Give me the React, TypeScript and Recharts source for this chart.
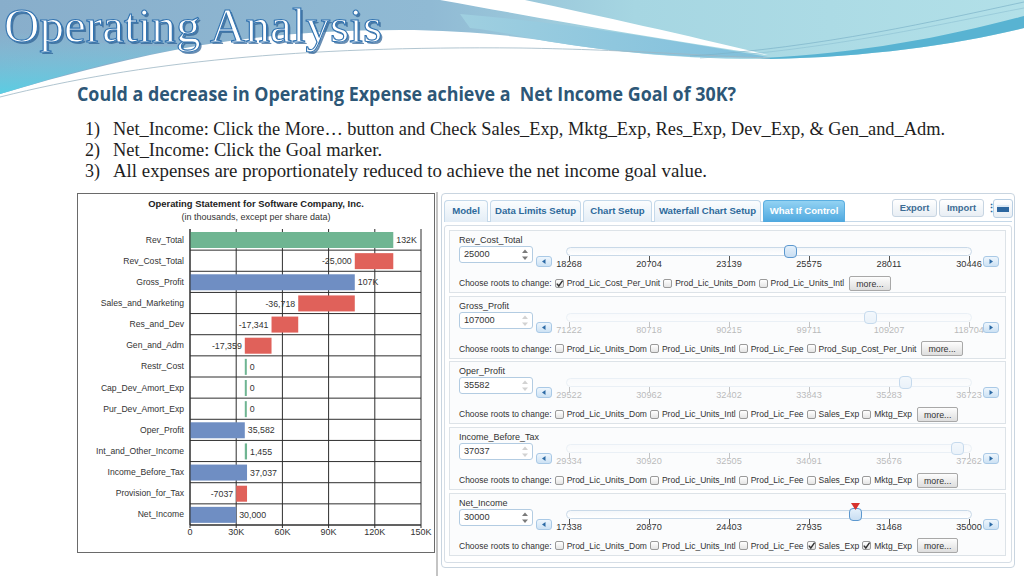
import React from 'react';
import { BarChart, Bar, XAxis, YAxis, CartesianGrid } from 'recharts';

// ---------------- Chart data ----------------
const categories = [
  'Rev_Total', 'Rev_Cost_Total', 'Gross_Profit', 'Sales_and_Marketing', 'Res_and_Dev',
  'Gen_and_Adm', 'Restr_Cost', 'Cap_Dev_Amort_Exp', 'Pur_Dev_Amort_Exp', 'Oper_Profit',
  'Int_and_Other_Income', 'Income_Before_Tax', 'Provision_for_Tax', 'Net_Income',
];
const values = [132000, -25000, 107000, -36718, -17341, -17359, 0, 0, 0, 35582, 1455, 37037, -7037, 30000];
const isTotal = [false, false, true, false, false, false, false, false, false, true, false, true, false, true];
const valueLabels = ['132K', '-25,000', '107K', '-36,718', '-17,341', '-17,359', '0', '0', '0', '35,582', '1,455', '37,037', '-7037', '30,000'];
const xTicks = [0, 30000, 60000, 90000, 120000, 150000];
const xTickLabels = ['0', '30K', '60K', '90K', '120K', '150K'];

// ---------------- What-if panel data ----------------
const tabNames = ['Model', 'Data Limits Setup', 'Chart Setup', 'Waterfall Chart Setup', 'What If Control'];
const activeTab = 4;
const sectionNames = ['Rev_Cost_Total', 'Gross_Profit', 'Oper_Profit', 'Income_Before_Tax', 'Net_Income'];
const sectionValues = [25000, 107000, 35582, 37037, 30000];
const sectionTicks = [
  [18268, 20704, 23139, 25575, 28011, 30446],
  [71222, 80718, 90215, 99711, 109207, 118704],
  [29522, 30962, 32402, 33843, 35283, 36723],
  [29334, 30920, 32505, 34091, 35676, 37262],
  [17338, 20870, 24403, 27935, 31468, 35000],
];
const sectionEnabled = [true, false, false, false, true];
const sectionGoal = [null, null, null, null, 30000];
const sectionRoots = [
  ['Prod_Lic_Cost_Per_Unit', 'Prod_Lic_Units_Dom', 'Prod_Lic_Units_Intl'],
  ['Prod_Lic_Units_Dom', 'Prod_Lic_Units_Intl', 'Prod_Lic_Fee', 'Prod_Sup_Cost_Per_Unit'],
  ['Prod_Lic_Units_Dom', 'Prod_Lic_Units_Intl', 'Prod_Lic_Fee', 'Sales_Exp', 'Mktg_Exp'],
  ['Prod_Lic_Units_Dom', 'Prod_Lic_Units_Intl', 'Prod_Lic_Fee', 'Sales_Exp', 'Mktg_Exp'],
  ['Prod_Lic_Units_Dom', 'Prod_Lic_Units_Intl', 'Prod_Lic_Fee', 'Sales_Exp', 'Mktg_Exp'],
];
const sectionChecked = [
  [true, false, false],
  [false, false, false, false],
  [false, false, false, false, false],
  [false, false, false, false, false],
  [false, false, false, true, true],
];

const steps = [
  'Net_Income: Click the More\u2026 button and Check Sales_Exp, Mktg_Exp, Res_Exp, Dev_Exp, & Gen_and_Adm.',
  'Net_Income: Click the Goal marker.',
  'All expenses are proportionately reduced to achieve the net income goal value.',
];

// ---------------- styles ----------------
const SANS = "'Liberation Sans', Arial, sans-serif";
const COLORS: Record<string, string> = { up: '#6fb592', down: '#e0615a', total: '#6f8ec3' };
const GRID = '#2e2e2e';

type Row = { name: string; range: [number, number]; kind: string; label: string };

function buildData(): Row[] {
  let running = 0;
  return categories.map((name, i) => {
    const v = values[i];
    if (isTotal[i]) {
      running = v;
      return { name, range: [0, v], kind: 'total', label: valueLabels[i] };
    }
    const next = running + v;
    const row: Row = {
      name,
      range: [Math.min(running, next), Math.max(running, next)],
      kind: v < 0 ? 'down' : 'up',
      label: valueLabels[i],
    };
    running = next;
    return row;
  });
}
const data = buildData();

const WaterfallBar = (props: any) => {
  const { x, y, width, height, payload } = props;
  if (x == null || y == null || !payload) return null;
  const wRaw = Number(width) || 0;
  const left = wRaw < 0 ? x + wRaw : x;
  const w = Math.max(Math.abs(wRaw), 2);
  const isDown = payload.kind === 'down';
  const cy = y + height / 2;
  return (
    <g>
      <rect x={left} y={y} width={w} height={height} fill={COLORS[payload.kind]} />
      <text
        x={isDown ? left - 3 : left + w + 3}
        y={cy}
        dy="0.35em"
        textAnchor={isDown ? 'end' : 'start'}
        fontSize={8.8}
        fill="#333"
        fontFamily={SANS}
      >
        {payload.label}
      </text>
    </g>
  );
};

const hGen = (props: any) => {
  const off = props && props.offset;
  if (!off) return [];
  const n = categories.length;
  return categories.map((_, i) => off.top + ((i + 1) * off.height) / n);
};

const WaterfallChart = () => (
  <div style={{ position: 'absolute', left: 77, top: 193, width: 358, height: 360 }}>
    <div style={{ position: 'absolute', left: 0, top: 0, width: 358, height: 360, border: '1px solid #6a6a6a', boxSizing: 'border-box' }} />
    <div style={{ position: 'absolute', left: 0, width: 358, top: 5, textAlign: 'center', fontFamily: SANS, fontSize: 9.4, fontWeight: 700, color: '#222' }}>
      Operating Statement for Software Company, Inc.
    </div>
    <div style={{ position: 'absolute', left: 0, width: 358, top: 19, textAlign: 'center', fontFamily: SANS, fontSize: 9, color: '#333' }}>
      (in thousands, except per share data)
    </div>
    <div style={{ position: 'absolute', left: 0, top: 0 }}>
      <BarChart width={358} height={360} data={data} layout="vertical" margin={{ top: 36, right: 14, bottom: 8, left: 0 }} barSize={16}>
        <CartesianGrid stroke={GRID} horizontalCoordinatesGenerator={hGen} />
        <XAxis
          type="number"
          domain={[0, 150000]}
          ticks={xTicks}
          interval={0}
          tickFormatter={(v: number) => xTickLabels[xTicks.indexOf(v)] ?? String(v)}
          axisLine={{ stroke: GRID }}
          tickLine={{ stroke: GRID }}
          tickSize={3}
          tickMargin={1}
          height={20}
          tick={{ fontSize: 9, fill: '#333', fontFamily: SANS }}
        />
        <YAxis
          type="category"
          dataKey="name"
          width={113}
          interval={0}
          axisLine={{ stroke: GRID }}
          tickLine={false}
          tickSize={4}
          tickMargin={2}
          tick={{ fontSize: 8.6, fill: '#333', fontFamily: SANS }}
        />
        <Bar dataKey="range" isAnimationActive={false} shape={WaterfallBar} />
      </BarChart>
    </div>
  </div>
);

// ---------------- header art & slide text ----------------
const SlideHeader = () => (
  <svg width={1024} height={190} style={{ position: 'absolute', left: 0, top: 0 }}>
    <defs>
      <linearGradient id="sky" x1="0" y1="0" x2="1" y2="0">
        <stop offset="0" stopColor="#88aecb" />
        <stop offset="0.42" stopColor="#90bad4" />
        <stop offset="0.62" stopColor="#a6d6e2" />
        <stop offset="1" stopColor="#b2e0e8" />
      </linearGradient>
      <linearGradient id="lobe" x1="0" y1="0" x2="0" y2="1">
        <stop offset="0" stopColor="#7fc6dd" stopOpacity="0" />
        <stop offset="1" stopColor="#57cfe4" stopOpacity="0.95" />
      </linearGradient>
      <linearGradient id="band" x1="0" y1="0" x2="1" y2="0">
        <stop offset="0" stopColor="#9fcfe0" />
        <stop offset="1" stopColor="#7fbfdc" />
      </linearGradient>
    </defs>
    <path d="M0,0 H1024 V28 C 960,44 870,57 770,59 C 680,60 600,50 540,40 C 500,34 450,30 400,30 C 300,30 220,40 150,55 C 90,68 40,82 0,94 Z" fill="url(#sky)" />
    <path d="M0,30 C 60,40 120,46 190,47 C 120,58 60,76 0,94 Z" fill="url(#lobe)" />
    <path d="M460,14 C 560,22 660,38 768,57 C 680,60 600,50 540,40 C 510,34 490,30 470,28 Z" fill="url(#band)" />
    <path d="M440,0 L525,0 C 600,16 690,36 768,55 C 650,38 540,18 440,0 Z" fill="#ffffff" />
    <path d="M760,58 C 860,54 950,36 1024,16 L1024,28 C 960,44 870,57 770,59 Z" fill="#58b3d2" />
    <path d="M0,97 C 140,62 300,46 520,48 C 640,50 700,56 770,58" stroke="#9db6c4" strokeWidth={0.8} fill="none" />
    <path d="M690,56 C 820,48 940,20 1024,2" stroke="#7cb3c9" strokeWidth={0.7} fill="none" />
    <path d="M700,58 C 830,50 950,22 1024,8" stroke="#8cc0d2" strokeWidth={0.6} fill="none" />
    {/* title */}
    <text x={6} y={44} fontFamily="'Liberation Serif', 'DejaVu Serif', serif" fontSize={48} textLength={378} lengthAdjust="spacingAndGlyphs" fill="#2b5f93" opacity={0.7}>
      Operating Analysis
    </text>
    <text x={4} y={42} fontFamily="'Liberation Serif', 'DejaVu Serif', serif" fontSize={48} textLength={378} lengthAdjust="spacingAndGlyphs" fill="#ffffff" stroke="#3273b0" strokeWidth={1.1}>
      Operating Analysis
    </text>
    {/* subtitle */}
    <text x={77} y={101} fontFamily="'Liberation Sans Narrow', 'Open Sans', sans-serif" fontWeight={700} fontSize={19} fill="#2d5777" textLength={659} lengthAdjust="spacingAndGlyphs" style={{ whiteSpace: 'pre' }}>
      {'Could a decrease in Operating Expense achieve a  Net Income Goal of 30K?'}
    </text>
    {steps.map((s, i) => (
      <g key={i}>
        <text x={85} y={135 + i * 20.8} fontFamily="'Liberation Serif', serif" fontSize={18} fill="#1e1e1e">
          {`${i + 1})`}
        </text>
        <text x={113} y={135 + i * 20.8} fontFamily="'Liberation Serif', serif" fontSize={18} fill="#1e1e1e" textLength={[832, 269, 594][i]} lengthAdjust="spacingAndGlyphs">
          {s}
        </text>
      </g>
    ))}
  </svg>
);

// ---------------- What-if panel ----------------
const Checkbox = ({ checked }: { checked: boolean }) => (
  <span
    style={{
      display: 'inline-block', width: 9, height: 9, border: '1px solid #9a9a9a', borderRadius: 2,
      background: 'linear-gradient(#ffffff,#e4e4e4)', position: 'relative', margin: '0 3px 0 3px', boxSizing: 'border-box', flex: 'none',
    }}
  >
    {checked && (
      <svg width={9} height={9} style={{ position: 'absolute', left: -1, top: -1 }}>
        <path d="M1.8 4.6 L3.8 7 L7.6 1.6" stroke="#333" strokeWidth={1.4} fill="none" />
      </svg>
    )}
  </span>
);

const ArrowBtn = ({ left, top, dir }: { left: number; top: number; dir: 'l' | 'r' }) => (
  <div
    style={{
      position: 'absolute', left, top, width: 16, height: 11, borderRadius: 3, border: '1px solid #a9c9e6',
      background: 'linear-gradient(#eef6fd,#cde2f4)', boxSizing: 'border-box',
    }}
  >
    <svg width={14} height={9} style={{ position: 'absolute', left: 0, top: 0 }}>
      {dir === 'l' ? <path d="M8.5 2 L5 4.5 L8.5 7 Z" fill="#2c6aa5" /> : <path d="M5.5 2 L9 4.5 L5.5 7 Z" fill="#2c6aa5" />}
    </svg>
  </div>
);

const Section = ({ i }: { i: number }) => {
  const top = 230 + i * 65.7;
  const ticks = sectionTicks[i];
  const min = ticks[0];
  const max = ticks[ticks.length - 1];
  const trackL = 119;
  const trackW = 400;
  const thumbX = trackL + ((sectionValues[i] - min) / (max - min)) * trackW;
  const fade = sectionEnabled[i] ? 1 : 0.33;
  const goal = sectionGoal[i];
  return (
    <div
      style={{
        position: 'absolute', left: 449, top, width: 557, height: 63, border: '1px solid #dde3e8',
        background: '#fbfcfd', boxSizing: 'border-box', fontFamily: SANS, color: '#333',
      }}
    >
      <div style={{ position: 'absolute', left: 9, top: 4, fontSize: 9, lineHeight: '11px' }}>{sectionNames[i]}</div>
      <div
        style={{
          position: 'absolute', left: 9, top: 15, width: 74, height: 17, border: '1px solid #b3cce2', borderRadius: 3,
          background: '#fff', boxSizing: 'border-box', fontSize: 9.2, lineHeight: '15px', paddingLeft: 4,
        }}
      >
        {String(sectionValues[i])}
        <svg width={8} height={14} style={{ position: 'absolute', right: 3, top: 1, opacity: fade }}>
          <path d="M1 5 L4 1.5 L7 5 Z" fill="#7a7a7a" />
          <path d="M1 8.5 L4 12 L7 8.5 Z" fill="#7a7a7a" />
        </svg>
      </div>
      <ArrowBtn left={86} top={25} dir="l" />
      <ArrowBtn left={533} top={25} dir="r" />
      <div style={{ position: 'absolute', left: 0, top: 0, width: 557, height: 40, opacity: fade }}>
        <div
          style={{
            position: 'absolute', left: trackL - 3, top: 16, width: trackW + 6, height: 9, borderRadius: 5,
            border: '1px solid #c9d9e8', background: 'linear-gradient(#f4f7fa,#ffffff)', boxSizing: 'border-box',
          }}
        />
        {ticks.map((t, k) => {
          const tx = trackL + (k / (ticks.length - 1)) * trackW;
          return (
            <React.Fragment key={k}>
              <div style={{ position: 'absolute', left: tx, top: 25, width: 1, height: 5, background: '#555' }} />
              <div style={{ position: 'absolute', left: tx - 25, width: 50, top: 27, textAlign: 'center', fontSize: 9.2, lineHeight: '12px' }}>
                {String(t)}
              </div>
            </React.Fragment>
          );
        })}
        <div
          style={{
            position: 'absolute', left: thumbX - 6.5, top: 14, width: 13, height: 13, borderRadius: 4,
            border: '1px solid #5c98cf', background: 'linear-gradient(#e4f0fb,#c9def2)', boxSizing: 'border-box',
          }}
        />
      </div>
      {goal != null && (
        <svg width={9} height={8} style={{ position: 'absolute', left: trackL + ((goal - min) / (max - min)) * trackW - 4.5, top: 9 }}>
          <path d="M0 0 H9 L4.5 7 Z" fill="#d8322d" />
        </svg>
      )}
      <div
        style={{
          position: 'absolute', left: 9, top: 44, height: 16, display: 'flex', alignItems: 'center',
          whiteSpace: 'nowrap', fontSize: 8.5,
        }}
      >
        <span>Choose roots to change:</span>
        {sectionRoots[i].map((r, k) => (
          <React.Fragment key={k}>
            <Checkbox checked={sectionChecked[i][k]} />
            <span>{r}</span>
          </React.Fragment>
        ))}
        <span
          style={{
            marginLeft: 5, height: 15, lineHeight: '14px', padding: '0 6px', border: '1px solid #a8a8a8', borderRadius: 2,
            background: 'linear-gradient(#fdfdfd,#dedede)', boxSizing: 'border-box', fontSize: 8.8, color: '#333',
          }}
        >
          more...
        </span>
      </div>
    </div>
  );
};

const tabWidths = [44, 91, 69, 107, 82];

const Panel = () => {
  let x = 444;
  return (
    <>
      <div style={{ position: 'absolute', left: 436, top: 192, width: 2, height: 384, background: '#c4c4c4' }} />
      <div
        style={{
          position: 'absolute', left: 441, top: 193, width: 574, height: 375, border: '1px solid #c9d5e0',
          borderRadius: 4, background: '#fff', boxSizing: 'border-box',
        }}
      />
      <div style={{ position: 'absolute', left: 444, top: 221, width: 568, height: 1, background: '#c5d8e8' }} />
      {tabNames.map((t, i) => {
        const left = x;
        x += tabWidths[i] + 2;
        const active = i === activeTab;
        return (
          <div
            key={t}
            style={{
              position: 'absolute', left, top: 200, width: tabWidths[i], height: 22, boxSizing: 'border-box',
              border: `1px solid ${active ? '#5aaee0' : '#c5d9ea'}`, borderBottom: 'none', borderRadius: '4px 4px 0 0',
              background: active ? 'linear-gradient(#92d2f3,#4ea8df)' : 'linear-gradient(#fbfdfe,#e3edf6)',
              color: active ? '#fff' : '#2e6a9b', fontFamily: SANS, fontWeight: 700, fontSize: 9.6, textAlign: 'center', lineHeight: '20px',
              whiteSpace: 'nowrap', overflow: 'hidden',
            }}
          >
            {t}
          </div>
        );
      })}
      {['Export', 'Import'].map((t, i) => (
        <div
          key={t}
          style={{
            position: 'absolute', left: 892 + i * 47, top: 199, width: 45, height: 18, boxSizing: 'border-box',
            border: '1px solid #c7d5e2', borderRadius: 3, background: 'linear-gradient(#ffffff,#e8eef4)',
            color: '#3d6c94', fontFamily: SANS, fontWeight: 700, fontSize: 9.4, textAlign: 'center', lineHeight: '16px',
          }}
        >
          {t}
        </div>
      ))}
      <div style={{ position: 'absolute', left: 986, top: 200, width: 6, fontFamily: SANS, fontSize: 11, color: '#2e6a9b', fontWeight: 700, lineHeight: '16px' }}>
        {'\u22EE'}
      </div>
      <div
        style={{
          position: 'absolute', left: 993, top: 199, width: 20, height: 19, boxSizing: 'border-box',
          border: '1px solid #b9cfe3', borderRadius: 3, background: 'linear-gradient(#ffffff,#e8eef4)',
        }}
      >
        <div style={{ position: 'absolute', left: 3, top: 5, width: 12, height: 7, background: '#2d67a0', borderTop: '2px solid #dce9f5', boxSizing: 'border-box' }} />
      </div>
      <div
        style={{
          position: 'absolute', left: 444, top: 225, width: 568, height: 338, border: '1px solid #d6dee6',
          borderRadius: 3, background: '#fff', boxSizing: 'border-box',
        }}
      />
      {sectionNames.map((_, i) => (
        <Section key={i} i={i} />
      ))}
    </>
  );
};

export default function App() {
  return (
    <div
      style={{
        position: 'absolute', left: 0, top: 0, width: 1024, height: 576, overflow: 'hidden',
        background: '#ffffff', fontFamily: SANS,
      }}
    >
      <SlideHeader />
      <WaterfallChart />
      <Panel />
    </div>
  );
}
